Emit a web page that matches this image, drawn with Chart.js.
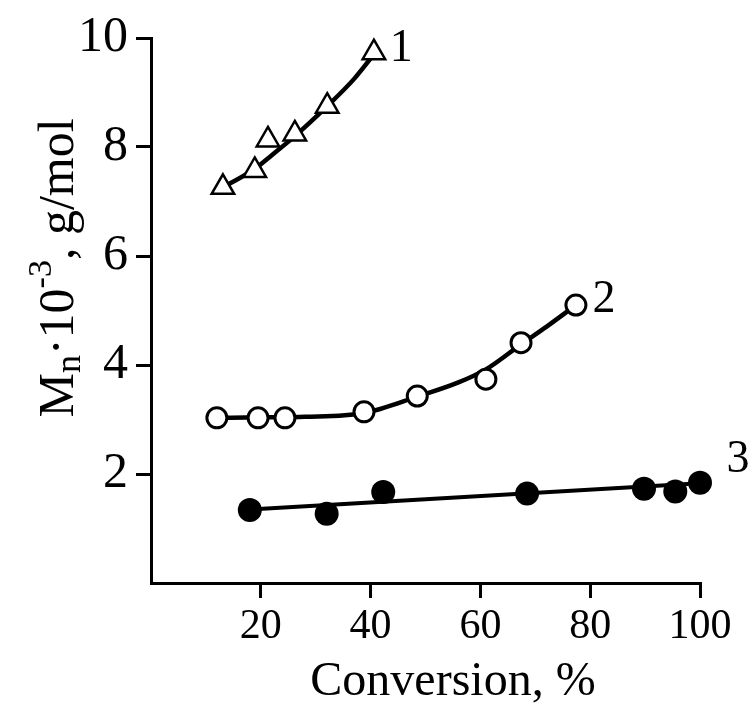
<!DOCTYPE html>
<html>
<head>
<meta charset="utf-8">
<script src="https://cdn.jsdelivr.net/npm/chart.js@4/dist/chart.umd.min.js"></script>
<style>
  html, body { margin: 0; padding: 0; background: #fff; }
  #wrap { width: 752px; height: 709px; }
</style>
</head>
<body>
<div id="wrap"><canvas id="mnChart"></canvas></div>
<script>
// curve 1 (triangles)
const conv1 = [13.1, 18.9, 21.3, 26.2, 32.1, 40.6];
const mn1 = [7.26, 7.57, 8.13, 8.24, 8.75, 9.73];
const fitX1 = [13.1, 18.9, 22, 26.2, 32.1, 37, 40.6];
const fitY1 = [7.26, 7.6, 7.85, 8.2, 8.75, 9.25, 9.7];

// curve 2 (open circles)
const conv2 = [12.0, 19.5, 24.4, 38.8, 48.5, 61.0, 67.4, 77.4];
const mn2 = [3.03, 3.03, 3.03, 3.14, 3.43, 3.74, 4.41, 5.10];
const fitX2 = [12, 20, 28, 38.8, 48.5, 56, 61, 67.4, 72, 77.4];
const fitY2 = [3.03, 3.04, 3.05, 3.12, 3.42, 3.68, 3.92, 4.38, 4.7, 5.1];

// curve 3 (filled circles)
const conv3 = [18, 32, 42.3, 68.5, 89.8, 95.5, 100];
const mn3 = [1.34, 1.27, 1.67, 1.64, 1.73, 1.68, 1.84];
const fitX3 = [18, 100];
const fitY3 = [1.35, 1.83];

const xTicks = [20, 40, 60, 80, 100];
const yTicks = [2, 4, 6, 8, 10];

// curve numbers
const curveLabels = ["1", "2", "3"];
const labelX = [45.6, 82.5, 106.9];
const labelY = [9.8, 5.2, 2.25];

function toPoints(xs, ys) {
	return xs.map((x, i) => ({ x: x, y: ys[i] }));
}

const serif = "'Liberation Serif', 'Times New Roman', serif";

const textPlugin = {
	id: "textPlugin",
	afterDraw(chart) {
		const ctx = chart.ctx;
		const xs = chart.scales.x;
		const ys = chart.scales.y;
		ctx.save();
		ctx.fillStyle = "#000";
		ctx.textBaseline = "middle";
		ctx.textAlign = "center";
		// curve numbers
		ctx.font = "46px " + serif;
		curveLabels.forEach((t, i) => {
			ctx.fillText(t, xs.getPixelForValue(labelX[i]), ys.getPixelForValue(labelY[i]));
		});
		// x title
		ctx.font = "48px " + serif;
		ctx.fillText("Conversion, %", 453, 682);
		// y title with sub/superscript
		ctx.translate(60, 268);
		ctx.rotate(-Math.PI / 2);
		const parts = [
			{ t: "M", size: 50, dy: 0 },
			{ t: "n", size: 36, dy: 11 },
			{ t: "\u00b710", size: 50, dy: 0 },
			{ t: "-3", size: 34, dy: -18 },
			{ t: ", g/mol", size: 50, dy: 0 },
		];
		let total = 0;
		parts.forEach((p) => {
			ctx.font = p.size + "px " + serif;
			p.w = ctx.measureText(p.t).width;
			total += p.w;
		});
		let cx = -total / 2;
		ctx.textAlign = "left";
		parts.forEach((p) => {
			ctx.font = p.size + "px " + serif;
			ctx.fillText(p.t, cx, p.dy);
			cx += p.w;
		});
		ctx.restore();
	},
};

const axisStyle = {
	grid: {
		display: true,
		drawOnChartArea: false,
		drawTicks: true,
		tickLength: 15,
		color: "#000",
		lineWidth: 3,
	},
	border: { display: true, color: "#000", width: 3 },
};

new Chart(document.getElementById("mnChart"), {
	type: "line",
	data: {
		datasets: [
			{
				data: toPoints(conv1, mn1),
				showLine: false,
				clip: false,
				pointStyle: "triangle",
				pointRadius: 13,
				pointBorderWidth: 2.5,
				pointBackgroundColor: "#fff",
				pointBorderColor: "#000",
				order: 0,
			},
			{
				data: toPoints(conv2, mn2),
				showLine: false,
				clip: false,
				pointStyle: "circle",
				pointRadius: 10,
				pointBorderWidth: 3,
				pointBackgroundColor: "#fff",
				pointBorderColor: "#000",
				order: 0,
			},
			{
				data: toPoints(conv3, mn3),
				showLine: false,
				clip: false,
				pointStyle: "circle",
				pointRadius: 12,
				pointBorderWidth: 0,
				pointBackgroundColor: "#000",
				pointBorderColor: "#000",
				order: 0,
			},
			{
				data: toPoints(fitX1, fitY1),
				borderColor: "#000",
				borderWidth: 4.5,
				pointRadius: 0,
				cubicInterpolationMode: "monotone",
				order: 1,
			},
			{
				data: toPoints(fitX2, fitY2),
				borderColor: "#000",
				borderWidth: 4.5,
				pointRadius: 0,
				cubicInterpolationMode: "monotone",
				order: 1,
			},
			{
				data: toPoints(fitX3, fitY3),
				borderColor: "#000",
				borderWidth: 4,
				pointRadius: 0,
				order: 1,
			},
		],
	},
	options: {
		responsive: true,
		maintainAspectRatio: false,
		animation: false,
		events: [],
		layout: { padding: { left: 0, right: 52, top: 32, bottom: 0 } },
		plugins: {
			legend: { display: false },
			tooltip: { enabled: false },
		},
		scales: {
			x: {
				type: "linear",
				min: 0,
				max: 100,
				...axisStyle,
				afterBuildTicks: (s) => { s.ticks = xTicks.map((v) => ({ value: v })); },
				afterFit: (s) => { s.height = 126; },
				ticks: {
					color: "#000",
					padding: 4,
					font: { family: serif, size: 42 },
				},
			},
			y: {
				type: "linear",
				min: 0,
				max: 10,
				...axisStyle,
				afterBuildTicks: (s) => { s.ticks = yTicks.map((v) => ({ value: v })); },
				afterFit: (s) => { s.width = 151; },
				ticks: {
					color: "#000",
					padding: 8,
					font: { family: serif, size: 50 },
				},
			},
		},
	},
	plugins: [textPlugin],
});
</script>
</body>
</html>
